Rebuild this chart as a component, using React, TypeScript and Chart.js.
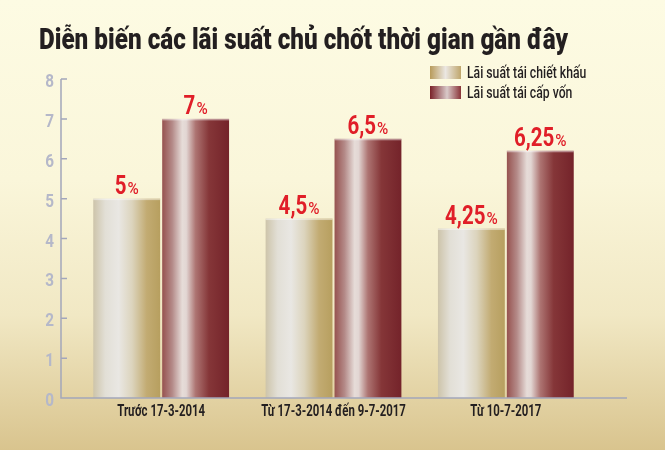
import { useEffect, useRef } from "react";
import { Chart, registerables } from "chart.js";
import type { Plugin } from "chart.js";

Chart.register(...registerables);

// chart data
const title = "Diễn biến các lãi suất chủ chốt thời gian gần đây";
const categories = ["Trước 17-3-2014", "Từ 17-3-2014 đến 9-7-2017", "Từ 10-7-2017"];
const seriesNames = ["Lãi suất tái chiết khấu", "Lãi suất tái cấp vốn"];
const discountRate = [5, 4.5, 4.25];
const refinanceRate = [7, 6.5, 6.2];
const discountLabels = ["5", "4,5", "4,25"];
const refinanceLabels = ["7", "6,5", "6,25"];
const yTicks = [0, 1, 2, 3, 4, 5, 6, 7, 8];

const FONT = "Roboto, 'DejaVu Sans', sans-serif";
const AXIS_COLOR = "#a3a6bb";

// colour stops for the shiny bars (left to right)
const beigeStops: [number, string][] = [
  [0, "#cdc4aa"],
  [0.18, "#e2dfd6"],
  [0.38, "#e9e7e3"],
  [0.58, "#dcd4bd"],
  [0.8, "#c2ab72"],
  [1, "#b79f5f"],
];
const maroonStops: [number, string][] = [
  [0, "#96524f"],
  [0.15, "#b48a88"],
  [0.3, "#e6dcd8"],
  [0.36, "#e2d6d3"],
  [0.5, "#ad7472"],
  [0.7, "#853638"],
  [1, "#74232a"],
];
const legendBeige: [number, string][] = [
  [0, "#b89b5b"],
  [0.5, "#ebe7e2"],
  [1, "#bfa66c"],
];
const legendMaroon: [number, string][] = [
  [0, "#7a2228"],
  [0.55, "#d9cac9"],
  [1, "#8a3438"],
];

function drawText(
  ctx: CanvasRenderingContext2D,
  text: string,
  x: number,
  y: number,
  font: string,
  color: string,
  align: "left" | "center" | "right",
  sx: number
) {
  ctx.save();
  ctx.font = font;
  ctx.fillStyle = color;
  ctx.textAlign = "left";
  ctx.textBaseline = "alphabetic";
  const w = ctx.measureText(text).width * sx;
  const left = align === "center" ? x - w / 2 : align === "right" ? x - w : x;
  ctx.translate(left, y);
  ctx.scale(sx, 1);
  ctx.fillText(text, 0, 0);
  ctx.restore();
  return w;
}

function textWidth(ctx: CanvasRenderingContext2D, text: string, font: string, sx: number) {
  ctx.save();
  ctx.font = font;
  const w = ctx.measureText(text).width * sx;
  ctx.restore();
  return w;
}

function hGradient(ctx: CanvasRenderingContext2D, left: number, width: number, stops: [number, string][]) {
  const g = ctx.createLinearGradient(left, 0, left + width, 0);
  stops.forEach(([o, c]) => g.addColorStop(o, c));
  return g;
}

const backgroundPlugin: Plugin<"bar"> = {
  id: "paperBackground",
  beforeDraw(chart) {
    const { ctx, width, height } = chart;
    const g = ctx.createLinearGradient(0, 0, 0, height);
    g.addColorStop(0, "#fdfbe3");
    g.addColorStop(0.4, "#faf6da");
    g.addColorStop(0.7, "#f1e8c4");
    g.addColorStop(1, "#d9c48e");
    ctx.save();
    ctx.fillStyle = g;
    ctx.fillRect(0, 0, width, height);
    ctx.restore();

    // title, squeezed to the condensed width of the original
    const titleFont = `900 29px ${FONT}`;
    const titleScale = 529 / textWidth(ctx, title, titleFont, 1);
    drawText(ctx, title, 39, 48.5, titleFont, "#231f20", "left", titleScale);

    // legend
    const stops = [legendBeige, legendMaroon];
    seriesNames.forEach((name, i) => {
      const top = 66 + i * 20;
      ctx.save();
      ctx.fillStyle = hGradient(ctx, 430, 31, stops[i]);
      ctx.fillRect(430, top, 31, 13);
      ctx.restore();
      drawText(ctx, name, 467, top + 12, `500 16.5px ${FONT}`, "#231f20", "left", 0.74);
    });
  },
};

const barsPlugin: Plugin<"bar"> = {
  id: "shinyBars",
  beforeDatasetsDraw(chart) {
    const { ctx } = chart;
    const stops = [beigeStops, maroonStops];
    chart.data.datasets.forEach((_, di) => {
      const meta = chart.getDatasetMeta(di);
      meta.data.forEach((bar) => {
        const { x, y, base, width } = bar.getProps(["x", "y", "base", "width"], true) as any;
        const left = x - width / 2;
        ctx.save();
        ctx.fillStyle = hGradient(ctx, left, width, stops[di]);
        ctx.fillRect(left, y, width, base - y);
        ctx.fillStyle = "rgba(255,255,255,0.45)";
        ctx.fillRect(left, y, width, 1.5);
        ctx.restore();
      });
    });
  },
  afterDatasetsDraw(chart) {
    const { ctx } = chart;
    const labels = [discountLabels, refinanceLabels];
    chart.data.datasets.forEach((_, di) => {
      const meta = chart.getDatasetMeta(di);
      meta.data.forEach((bar, i) => {
        const { x, y } = bar.getProps(["x", "y"], true) as any;
        const num = labels[di][i];
        const numFont = `700 25px ${FONT}`;
        const pctFont = `500 17px ${FONT}`;
        const wn = textWidth(ctx, num, numFont, 0.82);
        const wp = textWidth(ctx, "%", pctFont, 0.9);
        const start = x - (wn + wp + 1) / 2;
        const baseline = y - 4.5;
        drawText(ctx, num, start, baseline, numFont, "#e01e28", "left", 0.82);
        drawText(ctx, "%", start + wn + 1, baseline, pctFont, "#e01e28", "left", 0.9);
      });
    });
  },
};

const axesPlugin: Plugin<"bar"> = {
  id: "customAxes",
  afterDraw(chart) {
    const { ctx } = chart;
    const xs = chart.scales.x;
    const ys = chart.scales.y;
    const axisX = 61;
    const zeroY = ys.getPixelForValue(0);
    ctx.save();
    ctx.strokeStyle = AXIS_COLOR;
    ctx.lineWidth = 1.5;
    ctx.beginPath();
    ctx.moveTo(axisX, ys.getPixelForValue(yTicks[yTicks.length - 1]));
    ctx.lineTo(axisX, zeroY);
    ctx.lineTo(627, zeroY);
    yTicks.forEach((v) => {
      if (v === 0) return;
      const py = ys.getPixelForValue(v);
      ctx.moveTo(axisX, py);
      ctx.lineTo(axisX + 6, py);
    });
    ctx.stroke();
    ctx.restore();

    yTicks.forEach((v) => {
      const py = ys.getPixelForValue(v);
      drawText(ctx, String(v), 54, py + 8, `700 18px ${FONT}`, "#b5b8c9", "right", 0.85);
    });

    categories.forEach((c, i) => {
      const px = xs.getPixelForValue(i);
      drawText(ctx, c, px, 416, `700 16.5px ${FONT}`, "#231f20", "center", 0.69);
    });
  },
};

export default function App() {
  const canvasRef = useRef<HTMLCanvasElement | null>(null);

  useEffect(() => {
    document.body.style.margin = "0";
    if (!canvasRef.current) return;
    const chart = new Chart(canvasRef.current, {
      type: "bar",
      data: {
        labels: categories,
        datasets: [
          {
            label: seriesNames[0],
            data: discountRate,
            backgroundColor: "rgba(0,0,0,0)",
            categoryPercentage: 0.8,
            barPercentage: 0.97,
          },
          {
            label: seriesNames[1],
            data: refinanceRate,
            backgroundColor: "rgba(0,0,0,0)",
            categoryPercentage: 0.8,
            barPercentage: 0.97,
          },
        ],
      },
      options: {
        responsive: false,
        animation: false,
        layout: { padding: { top: 79, bottom: 52, left: 75, right: 73 } },
        plugins: {
          legend: { display: false },
          tooltip: { enabled: false },
        },
        scales: {
          x: { display: false },
          y: { display: false, min: 0, max: 8, ticks: { stepSize: 1 } },
        },
      },
      plugins: [backgroundPlugin, barsPlugin, axesPlugin],
    });
    return () => chart.destroy();
  }, []);

  return (
    <div style={{ width: 665, height: 450 }}>
      <canvas ref={canvasRef} width={665} height={450} />
    </div>
  );
}
